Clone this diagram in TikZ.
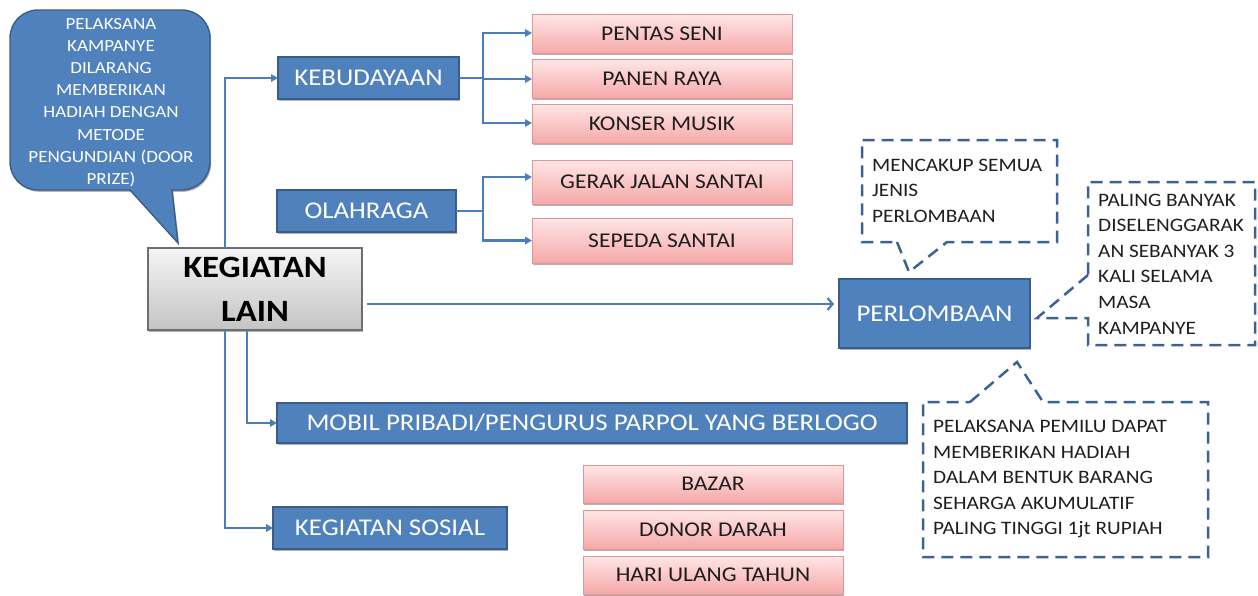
\documentclass[tikz,border=0pt]{standalone}
\usepackage{fontspec}
\setmainfont{Carlito}[FakeStretch=1.12]
\usetikzlibrary{arrows.meta,shadows}
\definecolor{bfill}{RGB}{79,129,189}
\definecolor{bline}{RGB}{56,93,138}
\definecolor{conn}{RGB}{74,126,187}
\definecolor{ptop}{RGB}{255,230,230}
\definecolor{pbot}{RGB}{246,168,168}
\definecolor{pline}{RGB}{222,150,150}
\definecolor{gtop}{RGB}{244,244,244}
\definecolor{gbot}{RGB}{196,196,196}
\definecolor{gline}{RGB}{110,110,110}
\definecolor{dline}{RGB}{60,98,148}
\definecolor{txt}{RGB}{30,30,30}
\begin{document}
\begin{tikzpicture}[x=1pt,y=-1pt,
  base/.style={inner sep=0pt, outer sep=0pt, align=center},
  shadowed/.style={drop shadow={shadow xshift=1.2pt,shadow yshift=-1.8pt,opacity=.3,fill=black}},
  bluebox/.style={base, shadowed, draw=bline, line width=1.4pt, fill=bfill, text=white,
    font=\fontsize{24}{28}\selectfont},
  pinkbox/.style={base, shadowed, draw=pline, line width=1pt, top color=ptop, bottom color=pbot,
    text=txt, minimum width=260pt, font=\fontsize{21}{25}\selectfont},
  graybox/.style={base, shadowed, draw=gline, line width=1.2pt, top color=gtop, bottom color=gbot,
    text=black, font=\fontsize{31}{44}\selectfont\bfseries},
  wire/.style={draw=conn, line width=2.2pt},
  link/.style={wire, -{Triangle[length=7pt,width=7.5pt]}},
  mainlink/.style={draw=conn, line width=2.2pt, -{Straight Barb[length=5pt,width=12pt,line width=2.2pt]}},
  dashcall/.style={draw=dline, line width=2.5pt, dash pattern=on 12pt off 7pt, line join=miter},
  calltext/.style={inner sep=0pt, anchor=west, align=left, text=txt},
]
\useasboundingbox (0,0) rectangle (1258,595);

% speech bubble at the top left
\draw[fill=bfill, draw=bline, line width=1.4pt, shadowed]
  (130,190) -- (178,243) -- (172,190) -- (182,190)
  .. controls (197.5,190) and (210,177.5) .. (210,162) -- (210,38)
  .. controls (210,22.5) and (197.5,10) .. (182,10) -- (38,10)
  .. controls (22.5,10) and (10,22.5) .. (10,38) -- (10,162)
  .. controls (10,177.5) and (22.5,190) .. (38,190) -- cycle;
\node[base, text=white, font=\fontsize{17}{22.2}\selectfont] (warn) at (111,102.5)
  {PELAKSANA\\KAMPANYE\\DILARANG\\MEMBERIKAN\\HADIAH DENGAN\\METODE\\PENGUNDIAN (DOOR\\PRIZE)};

% central node
\node[graybox, minimum width=214pt, minimum height=82pt] (kl) at (255,289) {KEGIATAN\\LAIN};

% first level
\node[bluebox, minimum width=181pt, minimum height=42pt] (keb) at (368.5,78) {KEBUDAYAAN};
\node[bluebox, minimum width=179pt, minimum height=42pt] (ola) at (366.5,211) {OLAHRAGA};
\node[bluebox, minimum width=191pt, minimum height=69pt] (perl) at (934.5,313.5) {PERLOMBAAN};
\node[bluebox, minimum width=630pt, minimum height=40pt] (mobil) at (592,423) {MOBIL PRIBADI/PENGURUS PARPOL YANG BERLOGO};
\node[bluebox, minimum width=234pt, minimum height=42pt] (sosial) at (390,528) {KEGIATAN SOSIAL};

% second level
\node[pinkbox, minimum height=39pt] (pentas) at (662,34) {PENTAS SENI};
\node[pinkbox, minimum height=39pt] (panen) at (662,79) {PANEN RAYA};
\node[pinkbox, minimum height=39pt] (konser) at (662,124) {KONSER MUSIK};
\node[pinkbox, minimum height=44pt] (gerak) at (662,182) {GERAK JALAN SANTAI};
\node[pinkbox, minimum height=45pt] (sepeda) at (662,240.5) {SEPEDA SANTAI};
\node[pinkbox, minimum height=38pt] (bazar) at (713,484) {BAZAR};
\node[pinkbox, minimum height=39pt] (donor) at (713,529.5) {DONOR DARAH};
\node[pinkbox, minimum height=38pt] (hut) at (713,575) {HARI ULANG TAHUN};

% connectors
\coordinate (kb) at (483,78);
\coordinate (ob) at (483,211);
\draw[link] ([xshift=77pt]kl.north west) |- (keb.west);
\draw[link] ([xshift=99pt]kl.south west) |- (mobil.west);
\draw[link] ([xshift=77pt]kl.south west) |- (sosial.west);
\draw[mainlink] ([shift={(5pt,-15pt)}]kl.east) -- ([shift={(-5pt,9.5pt)}]perl.west);
\draw[wire] (keb.east) -- (kb);
\draw[link] (kb) |- ([yshift=1pt]pentas.west);
\draw[link] (kb) |- (panen.west);
\draw[link] (kb) |- ([yshift=1pt]konser.west);
\draw[wire] (ola.east) -- (ob);
\draw[link] (ob) |- ([yshift=5pt]gerak.west);
\draw[link] (ob) |- (sepeda.west);

% dashed callouts around PERLOMBAAN
\draw[dashcall] (897,242) -- (909,272) -- (947,242) -- (1057,242) -- (1057,140)
  -- (862,140) -- (862,242) -- cycle;
\node[calltext, font=\fontsize{19}{25.5}\selectfont] (c1) at (872,190.5)
  {MENCAKUP SEMUA\\JENIS\\PERLOMBAAN};

\draw[dashcall] (1088,275) -- (1037,318) -- (1088,318) -- (1088,345) -- (1255,345)
  -- (1255,182) -- (1088,182) -- cycle;
\node[calltext, font=\fontsize{19}{25.6}\selectfont] (c2) at (1098,264)
  {PALING BANYAK\\DISELENGGARAK\\AN SEBANYAK 3\\KALI SELAMA\\MASA\\KAMPANYE};

\draw[dashcall] (970,402) -- (1017,362) -- (1043,402) -- (1208,402) -- (1208,557)
  -- (923,557) -- (923,402) -- cycle;
\node[calltext, font=\fontsize{19}{25.5}\selectfont] (c3) at (933,479)
  {PELAKSANA PEMILU DAPAT\\MEMBERIKAN HADIAH\\DALAM BENTUK BARANG\\SEHARGA AKUMULATIF\\PALING TINGGI 1jt RUPIAH};
\end{tikzpicture}
\end{document}
